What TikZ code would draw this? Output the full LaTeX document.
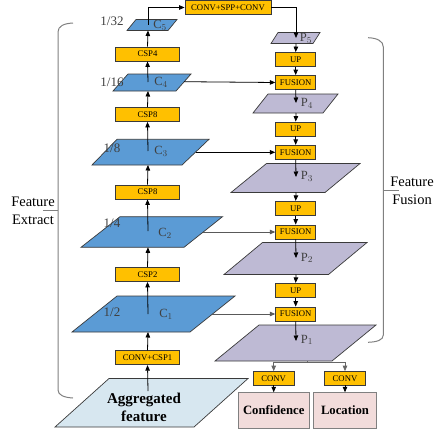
\documentclass[tikz,border=0pt]{standalone}
\usepackage{fontspec}
\setmainfont{Liberation Serif}
\usetikzlibrary{arrows.meta}
\definecolor{cblue}{HTML}{5B9BD5}
\definecolor{corange}{HTML}{FFC000}
\definecolor{cpurple}{HTML}{BEBAD4}
\definecolor{cagg}{HTML}{D7E7F0}
\definecolor{cpink}{HTML}{F2DCDB}
\definecolor{cedge}{HTML}{3A3A3A}
\definecolor{cbrace}{HTML}{808080}
\tikzset{
  obox/.style={draw=cedge, line width=0.8pt, fill=corange, minimum height=14pt, inner sep=0pt, font=\fontsize{8.7}{9}\selectfont},
  cshape/.style={draw=cedge, line width=0.7pt, fill=cblue},
  pshape/.style={draw=cedge, line width=0.7pt, fill=cpurple},
  ashape/.style={draw=cedge, line width=0.7pt, fill=cagg},
  resbox/.style={draw=gray, line width=0.8pt, fill=cpink, inner sep=0pt, font=\fontsize{12.7}{14}\selectfont\bfseries},
  arr/.style={line width=0.8pt, -{Triangle[length=5.5pt,width=4.5pt]}},
  ln/.style={line width=0.8pt},
  lbl/.style={text=black!75, font=\fontsize{12.5}{13}\selectfont, inner sep=0pt},
  frac/.style={text=black!75, font=\fontsize{13}{14}\selectfont, inner sep=0pt},
  brace/.style={draw=cbrace, line width=1pt},
  side/.style={font=\fontsize{14.5}{18}\selectfont, align=center, inner sep=0pt}
}
\begin{document}
\begin{tikzpicture}[x=1pt,y=-1pt]
\useasboundingbox (0,0) rectangle (443,428);
% ---------- left column shapes ----------
\draw[ashape] (109,378.5) -- (248,378.5) -- (194,427) -- (55,427) -- cycle;
\node[font=\fontsize{15}{18}\selectfont\bfseries, align=center, inner sep=0pt] (aggtxt) at (144,407) {Aggregated\\feature};
\coordinate (aggtop) at (148,391);

\draw[cshape] (117,296) -- (235,296) -- (190,332) -- (72,332) -- cycle;
\coordinate (C1c) at (148,314); \coordinate (C1b) at (148,332); \coordinate (C1r) at (212,314);
\draw[cshape] (120,216.7) -- (222.5,216.7) -- (184,247.3) -- (81,247.3) -- cycle;
\coordinate (C2c) at (148,231); \coordinate (C2b) at (148,247.3); \coordinate (C2r) at (203,232);
\draw[cshape] (117,139.3) -- (209,139.3) -- (182,165) -- (92,165) -- cycle;
\coordinate (C3c) at (148,151); \coordinate (C3b) at (148,165); \coordinate (C3r) at (195.5,152.3);
\draw[cshape] (128,74) -- (191,74) -- (176,91) -- (113,91) -- cycle;
\coordinate (C4c) at (148,82); \coordinate (C4b) at (148,91); \coordinate (C4r) at (184,81.7);
\draw[cshape] (136,19.5) -- (177,19.5) -- (168,30.5) -- (127,30.5) -- cycle;
\coordinate (C5c) at (148,25); \coordinate (C5b) at (148,30.5);

% ---------- right column shapes ----------
\draw[pshape] (278,32.5) -- (320,32.5) -- (313,43.5) -- (271,43.5) -- cycle;
\coordinate (P5c) at (296,38); \coordinate (P5b) at (296,43.5);
\draw[pshape] (268,94) -- (338,94) -- (323,113) -- (253,113) -- cycle;
\coordinate (P4c) at (296,103); \coordinate (P4b) at (296,113);
\draw[pshape] (266.5,163.5) -- (360,163.5) -- (325,192.5) -- (231,192.5) -- cycle;
\coordinate (P3c) at (296,177); \coordinate (P3b) at (296,192.5);
\draw[pshape] (262.5,242.5) -- (367,242.5) -- (328.5,274.5) -- (224,274.5) -- cycle;
\coordinate (P2c) at (296,258); \coordinate (P2b) at (296,274.5);
\draw[pshape] (259,325) -- (376,325) -- (332,361) -- (215,361) -- cycle;
\coordinate (P1c) at (296,341); \coordinate (P1j) at (307,361);
\coordinate (split) at (307,362.5);

% ---------- boxes ----------
\node[obox, minimum width=86pt, minimum height=13.5pt] (spp) at (228,7.5) {CONV+SPP+CONV};
\node[obox, minimum width=64pt] (csp4) at (147.5,54) {CSP4};
\node[obox, minimum width=64pt] (csp8a) at (147.5,114.5) {CSP8};
\node[obox, minimum width=64pt] (csp8b) at (147.5,192) {CSP8};
\node[obox, minimum width=64pt] (csp2) at (147.5,274.5) {CSP2};
\node[obox, minimum width=64pt] (csp1) at (147.5,357.7) {CONV+CSP1};

\node[obox, minimum width=40pt] (up1) at (295.7,59.5) {UP};
\node[obox, minimum width=40pt] (fu1) at (295.7,82.5) {FUSION};
\node[obox, minimum width=40pt] (up2) at (295.7,129) {UP};
\node[obox, minimum width=40pt] (fu2) at (295.7,152.3) {FUSION};
\node[obox, minimum width=40pt] (up3) at (295.7,208.3) {UP};
\node[obox, minimum width=40pt] (fu3) at (295.7,232) {FUSION};
\node[obox, minimum width=40pt] (up4) at (295.7,290.3) {UP};
\node[obox, minimum width=40pt] (fu4) at (295.7,314) {FUSION};

\node[obox, minimum width=41pt, minimum height=13.5pt] (conva) at (273.7,378.3) {CONV};
\node[obox, minimum width=41pt, minimum height=13.5pt] (convb) at (345,378.3) {CONV};

\node[resbox, minimum width=70.7pt, minimum height=36pt, anchor=north] (conf) at (273.7,392.3) {};
\node[resbox, minimum width=63.4pt, minimum height=36pt, anchor=north] (loc) at (345,392.3) {};
\node[font=\fontsize{12.7}{14}\selectfont\bfseries, inner sep=0pt] (conft) at (273.7,410.5) {Confidence};
\node[font=\fontsize{12.7}{14}\selectfont\bfseries, inner sep=0pt] (loct) at (345,410.5) {Location};

% ---------- labels ----------
\node[lbl] (lC5) at (160,25.5) {C$_5$};
\node[lbl] (lC4) at (161,82) {C$_4$};
\node[lbl] (lC3) at (161,151) {C$_3$};
\node[lbl] (lC2) at (165,233) {C$_2$};
\node[lbl] (lC1) at (166,314.5) {C$_1$};
\node[frac] (f32) at (112,21) {1/32};
\node[frac] (f16) at (112,82) {1/16};
\node[frac] (f8) at (112,148) {1/8};
\node[frac] (f4) at (112,223) {1/4};
\node[frac] (f2) at (112,312) {1/2};
\node[lbl] (lP5) at (306,38.5) {P$_5$};
\node[lbl] (lP4) at (307,103.5) {P$_4$};
\node[lbl] (lP3) at (307,176.5) {P$_3$};
\node[lbl] (lP2) at (307,258) {P$_2$};
\node[lbl] (lP1) at (307,340) {P$_1$};

% ---------- connectors, left ----------
\draw[arr] (aggtop) -- (csp1.south);
\draw[arr] (csp1.north) -- (C1b);
\draw[arr] (C1c) -- (csp2.south);
\draw[arr] (csp2.north) -- (C2b);
\draw[arr] (C2c) -- (csp8b.south);
\draw[arr] (csp8b.north) -- (C3b);
\draw[arr] (C3c) -- (csp8a.south);
\draw[arr] (csp8a.north) -- (C4b);
\draw[arr] (C4c) -- (csp4.south);
\draw[arr] (csp4.north) -- (C5b);
\draw[arr] (C5c) |- (spp.west);

% ---------- lateral ----------
\draw[arr] (C4r) -- (fu1.west);
\draw[arr] (C3r) -- (fu2.west);
\draw[arr, draw=black!65] (C2r) -- (fu3.west);
\draw[arr, draw=black!65] (C1r) -- (fu4.west);

% ---------- right column ----------
\draw[arr] (spp.east) -| (P5c);
\draw[arr] (P5b) -- (up1.north);
\draw[arr] (up1.south) -- (fu1.north);
\draw[arr] (fu1.south) -- (P4c);
\draw[arr] (P4b) -- (up2.north);
\draw[arr] (up2.south) -- (fu2.north);
\draw[arr] (fu2.south) -- (P3c);
\draw[arr] (P3b) -- (up3.north);
\draw[arr] (up3.south) -- (fu3.north);
\draw[arr] (fu3.south) -- (P2c);
\draw[arr] (P2b) -- (up4.north);
\draw[arr] (up4.south) -- (fu4.north);
\draw[arr] (fu4.south) -- (P1c);
\draw[ln, draw=black!60] (P1j) -- (split);
\draw[arr, draw=black!60] (split) -| (conva.north);
\draw[arr, draw=black!60] (split) -| (convb.north);
\draw[arr] (conva.south) -- (conf.north);
\draw[arr] (convb.south) -- (loc.north);

% ---------- braces ----------
\draw[brace] (73,23) .. controls (64,23.5) and (58,26) .. (58,32) -- (58,390) .. controls (58,395) and (64,397.5) .. (73,398);
\draw[brace] (58,210.7) -- (43,210.7);
\draw[brace] (368,37.7) .. controls (377,38) and (383.3,41) .. (383.3,47) -- (383.3,335) .. controls (383.3,340) and (377,342) .. (368,342.3);
\draw[brace] (383.3,190) -- (399,190);
\node[side] (fe) at (33,211) {Feature\\Extract};
\node[side] (ff) at (412,190.5) {Feature\\Fusion};
\end{tikzpicture}
\end{document}
